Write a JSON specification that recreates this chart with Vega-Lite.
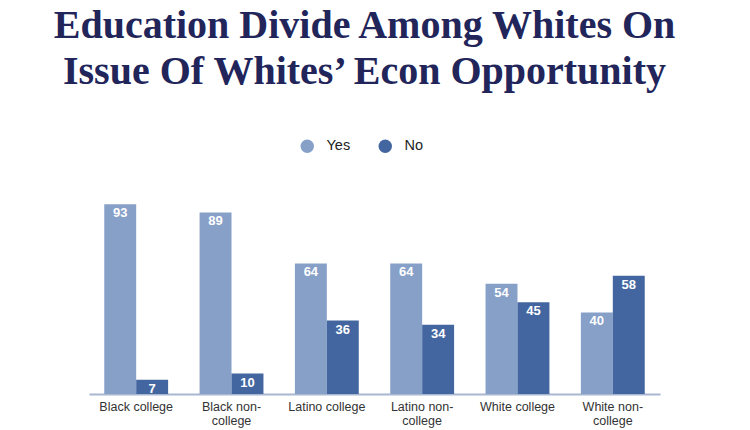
{
  "$schema": "https://vega.github.io/schema/vega-lite/v6.json",
  "width": 571,
  "height": 204,
  "autosize": {"type": "none"},
  "padding": {"left": 89, "top": 190, "right": 90, "bottom": 36},
  "background": "white",
  "title": {
    "text": ["Education Divide Among Whites On", "Issue Of Whites’ Econ Opportunity"],
    "font": "Liberation Serif",
    "fontSize": 40,
    "fontWeight": "bold",
    "color": "#22255A",
    "lineHeight": 46,
    "anchor": "middle",
    "dx": -10,
    "offset": 47
  },
  "data": {
    "values": [
      {"group": "Black college", "answer": "Yes", "value": 93},
      {"group": "Black college", "answer": "No", "value": 7},
      {"group": "Black non-college", "answer": "Yes", "value": 89},
      {"group": "Black non-college", "answer": "No", "value": 10},
      {"group": "Latino college", "answer": "Yes", "value": 64},
      {"group": "Latino college", "answer": "No", "value": 36},
      {"group": "Latino non-college", "answer": "Yes", "value": 64},
      {"group": "Latino non-college", "answer": "No", "value": 34},
      {"group": "White college", "answer": "Yes", "value": 54},
      {"group": "White college", "answer": "No", "value": 45},
      {"group": "White non-college", "answer": "Yes", "value": 40},
      {"group": "White non-college", "answer": "No", "value": 58}
    ]
  },
  "encoding": {
    "x": {
      "field": "group",
      "type": "nominal",
      "sort": null,
      "title": null,
      "scale": {"paddingInner": 0.33, "paddingOuter": 0.16},
      "axis": {
        "labelAngle": 0,
        "ticks": false,
        "domainColor": "#A9B7D1",
        "domainWidth": 2,
        "labelColor": "#333333",
        "labelFont": "Liberation Sans",
        "labelFontSize": 12.5,
        "labelPadding": 6,
        "labelLineHeight": 14,
        "labelBaseline": "top",
        "labelExpr": "split(replace(datum.label, 'non-', 'non-|'), '|')"
      }
    },
    "xOffset": {"field": "answer", "type": "nominal", "sort": ["Yes", "No"], "scale": {"paddingInner": 0, "paddingOuter": 0}},
    "y": {
      "field": "value",
      "type": "quantitative",
      "scale": {"domain": [0, 100]},
      "axis": null
    }
  },
  "layer": [
    {
      "mark": {"type": "bar"},
      "encoding": {
        "color": {
          "field": "answer",
          "type": "nominal",
          "sort": ["Yes", "No"],
          "scale": {"domain": ["Yes", "No"], "range": ["#87A0C8", "#4466A0"]},
          "legend": {
            "title": null,
            "orient": "none",
            "direction": "horizontal",
            "legendX": 211,
            "legendY": -51,
            "symbolType": "circle",
            "symbolSize": 180,
            "symbolStrokeWidth": 0,
            "labelFont": "Liberation Sans",
            "labelFontSize": 14.5,
            "labelColor": "#222222",
            "labelOffset": 12,
            "columnPadding": 27
          }
        }
      }
    },
    {
      "mark": {"type": "text", "baseline": "top", "dy": 3, "color": "white", "font": "Liberation Sans", "fontWeight": "bold", "fontSize": 13},
      "encoding": {"text": {"field": "value", "type": "quantitative"}}
    }
  ],
  "config": {"view": {"stroke": null}}
}
